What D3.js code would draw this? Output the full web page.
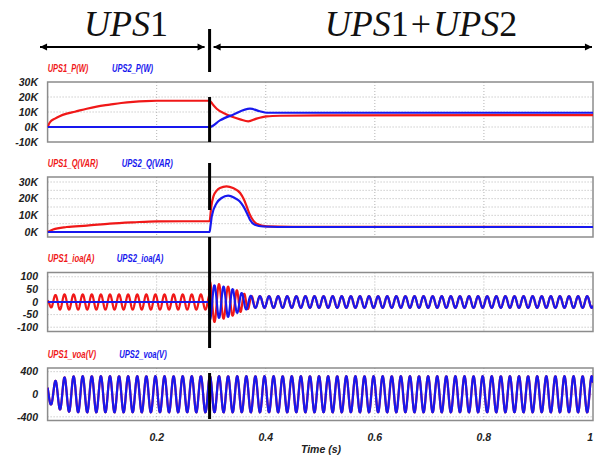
<!DOCTYPE html>
<html>
<head>
<meta charset="utf-8">
<script src="https://cdn.jsdelivr.net/npm/d3@7"></script>
<style>
  body { margin: 0; background: #fff; }
  svg { display: block; }
</style>
</head>
<body>
<div id="chart"></div>
<script>
// ---- data ----
const xTicks = [0.2, 0.4, 0.6, 0.8, 1];
const switchTime = 0.297;          // UPS2 connected
const lineFreq = 60;               // Hz, counted from the waveforms

// active power (W)
const p1Time = [0, 0.004, 0.0136, 0.022, 0.035, 0.05, 0.0717, 0.09, 0.114, 0.135, 0.157, 0.18, 0.2, 0.297, 0.303, 0.31, 0.328, 0.353, 0.368, 0.383, 0.402, 0.426, 0.5, 1];
const p1 = [0, 3000, 5600, 7200, 8900, 10200, 12200, 13600, 14900, 16000, 16800, 17300, 17500, 17500, 15000, 12200, 8300, 5100, 3800, 5600, 7100, 7500, 7800, 7900];
const p2Time = [0, 0.297, 0.316, 0.34, 0.371, 0.389, 0.402, 0.45, 1];
const p2 = [0, 0, 4400, 8200, 12200, 10500, 9500, 9500, 9500];

// reactive power (VAR)
const q1Time = [0, 0.01, 0.035, 0.072, 0.114, 0.157, 0.2, 0.297, 0.3, 0.304, 0.31, 0.316, 0.328, 0.34, 0.353, 0.36, 0.365, 0.37, 0.374, 0.383, 0.402, 0.45, 1];
const q1 = [0, 1500, 3000, 3800, 5000, 5800, 6400, 6500, 15000, 21400, 24800, 26400, 27400, 26400, 23400, 19500, 15400, 11000, 8400, 5000, 3400, 3100, 3000];
const q2Time = [0, 0.297, 0.299, 0.301, 0.31, 0.319, 0.331, 0.343, 0.352, 0.359, 0.366, 0.371, 0.38, 0.395, 0.45, 1];
const q2 = [0, 0, 4500, 9400, 17400, 20400, 21800, 20400, 18500, 15400, 11000, 7400, 4400, 3300, 3000, 3000];

// output current peak envelopes (A) and phase offsets (deg)
const ioa1EnvTime = [0, 0.008, 0.02, 0.296, 0.2975, 0.307, 0.315, 0.33, 0.345, 0.36, 0.375, 1];
const ioa1Env = [8, 25, 30, 30, 80, 79, 70, 62, 49, 33, 23, 23];
const ioa1PhaseTime = [0, 0.345, 0.38, 1];
const ioa1Phase = [0, 0, 180, 180];
const ioa2EnvTime = [0, 0.296, 0.2975, 0.31, 0.33, 0.345, 0.36, 0.375, 1];
const ioa2Env = [0, 0, 70, 64, 60, 45, 32, 23, 23];
const ioa2PhaseTime = [0, 1];
const ioa2Phase = [180, 180];

// output voltage peak envelope (V)
const voaEnvTime = [0, 0.006, 0.014, 0.022, 0.03, 0.045, 0.06, 1];
const voaEnv = [180, 180, 237, 267, 297, 315, 320, 320];
const startPhase = 2.45; // rad, first trough near t = 0.006 s

const seriesLabels = [
  ["UPS1_P(W)", "UPS2_P(W)"],
  ["UPS1_Q(VAR)", "UPS2_Q(VAR)"],
  ["UPS1_ioa(A)", "UPS2_ioa(A)"],
  ["UPS1_voa(V)", "UPS2_voa(V)"]
];

// ---- layout ----
const width = 594, height = 457;
const red = "#f01818", blue = "#1818ee";
const sans = "'Liberation Sans Narrow', 'Liberation Sans', Arial, sans-serif";

const svg = d3.select("#chart").append("svg")
  .attr("width", width)
  .attr("height", height);

const x = d3.scaleLinear().domain([0, 1]).range([47.6, 593]);

const kfmt = d => d / 1000 + "K";
const panels = [
  { top: 82, bottom: 142, domain: [-10000, 30000], ticks: [30000, 20000, 10000, 0, -10000], grid: [20000, 10000, 0], fmt: kfmt,
    lab: { y: 68.3, bx: 112, w: [40.6, 41] } },
  { top: 177, bottom: 237, domain: [-3000, 33000], ticks: [30000, 20000, 10000, 0], grid: [5000, 10000, 15000, 20000, 25000, 30000], fmt: kfmt,
    lab: { y: 163.3, bx: 121.7, w: [50.3, 51] } },
  { top: 272.5, bottom: 331.5, domain: [-117, 117], ticks: [100, 50, 0, -50, -100], grid: [100, 50, 0, -50, -100], fmt: d => d,
    lab: { y: 258.3, bx: 116.7, w: [46.6, 46.6] } },
  { top: 368, bottom: 420.5, domain: [-465, 465], ticks: [400, 0, -400], grid: [400, 0, -400], fmt: d => d,
    lab: { y: 354, bx: 119.3, w: [48.3, 47.4] } }
];

function wave(envT, envA, phT, phV) {
  const amp = d3.scaleLinear().domain(envT).range(envA).clamp(true);
  const ph = d3.scaleLinear().domain(phT).range(phV).clamp(true);
  return d3.range(0, 1.0001, 0.0004).map(t =>
    [t, amp(t) * Math.sin(2 * Math.PI * lineFreq * t + startPhase + ph(t) * Math.PI / 180)]);
}

const series = [
  [p1Time.map((t, i) => [t, p1[i]]), p2Time.map((t, i) => [t, p2[i]])],
  [q1Time.map((t, i) => [t, q1[i]]), q2Time.map((t, i) => [t, q2[i]])],
  [wave(ioa1EnvTime, ioa1Env, ioa1PhaseTime, ioa1Phase), wave(ioa2EnvTime, ioa2Env, ioa2PhaseTime, ioa2Phase)],
  [wave(voaEnvTime, voaEnv, [0, 1], [0, 0]), wave(voaEnvTime, voaEnv, [0, 1], [0, 0])]
];

const defs = svg.append("defs");

panels.forEach((p, i) => {
  const y = d3.scaleLinear().domain(p.domain).range([p.bottom, p.top]);
  const g = svg.append("g");
  const clipId = "clip" + i;
  defs.append("clipPath").attr("id", clipId)
    .append("rect").attr("x", x(0)).attr("y", p.top).attr("width", x(1) - x(0)).attr("height", p.bottom - p.top);

  // dotted grid
  g.selectAll(".hg").data(p.grid).enter().append("line")
    .attr("x1", x(0)).attr("x2", x(1))
    .attr("y1", d => y(d)).attr("y2", d => y(d))
    .attr("stroke", "#b4b4b4").attr("stroke-width", 1).attr("stroke-dasharray", "1,2");
  g.selectAll(".vg").data(xTicks.slice(0, -1)).enter().append("line")
    .attr("x1", d => x(d)).attr("x2", d => x(d))
    .attr("y1", p.top).attr("y2", p.bottom)
    .attr("stroke", "#b4b4b4").attr("stroke-width", 1).attr("stroke-dasharray", "1,2");

  // frame
  g.append("rect")
    .attr("x", x(0)).attr("y", p.top)
    .attr("width", x(1) - x(0)).attr("height", p.bottom - p.top)
    .attr("fill", "none").attr("stroke", "#8c8c8c").attr("stroke-width", 1.5);

  // y tick labels
  g.selectAll(".yt").data(p.ticks).enter().append("text")
    .attr("x", 38).attr("y", d => y(d))
    .attr("dy", "0.35em")
    .attr("text-anchor", "end")
    .attr("font-family", sans)
    .attr("font-size", 10.5).attr("font-weight", "bold").attr("font-style", "italic")
    .attr("fill", "#222")
    .text(p.fmt);

  // series labels
  [0, 1].forEach(k => {
    g.append("text")
      .attr("x", k === 0 ? 47.7 : p.lab.bx).attr("y", p.lab.y).attr("dy", "0.35em")
      .attr("font-family", sans)
      .attr("font-size", 11).attr("font-weight", "bold").attr("font-style", "italic")
      .attr("textLength", p.lab.w[k]).attr("lengthAdjust", "spacingAndGlyphs")
      .attr("fill", k === 0 ? red : blue)
      .text(seriesLabels[i][k]);
  });

  // traces
  const line = d3.line().x(d => x(d[0])).y(d => y(d[1]))
    .curve(i < 2 ? d3.curveMonotoneX : d3.curveLinear);
  series[i].forEach((s, k) => {
    g.append("path")
      .datum(s)
      .attr("clip-path", `url(#${clipId})`)
      .attr("fill", "none")
      .attr("stroke", k === 0 ? red : blue)
      .attr("stroke-width", 2.2)
      .attr("stroke-linejoin", "round")
      .attr("d", line);
  });
});

// x axis labels (last one sits at the right edge)
svg.selectAll(".xt").data(xTicks).enter().append("text")
  .attr("x", d => d === 1 ? x(d) : x(d)).attr("y", 437).attr("dy", "0.35em")
  .attr("text-anchor", d => d === 1 ? "end" : "middle")
  .attr("font-family", sans)
  .attr("font-size", 10.5).attr("font-weight", "bold").attr("font-style", "italic")
  .attr("fill", "#222")
  .text(d => d3.format("")(d));
svg.append("text")
  .attr("x", 321).attr("y", 449.5).attr("dy", "0.35em")
  .attr("text-anchor", "middle")
  .attr("font-family", sans)
  .attr("font-size", 10.5).attr("font-weight", "bold").attr("font-style", "italic")
  .attr("fill", "#222")
  .text("Time (s)");

// switching marker: thick black segments
const xs = x(switchTime);
const barSegments = [[29, 72], [97, 142], [163, 210], [237, 348], [373, 419]];
svg.selectAll(".bar").data(barSegments).enter().append("line")
  .attr("x1", xs).attr("x2", xs)
  .attr("y1", d => d[0]).attr("y2", d => d[1])
  .attr("stroke", "#000").attr("stroke-width", 3);

// header arrows and labels
defs.append("marker").attr("id", "ah")
  .attr("viewBox", "0 0 10 10").attr("refX", 10).attr("refY", 5)
  .attr("markerWidth", 4.5).attr("markerHeight", 3.2).attr("orient", "auto-start-reverse")
  .attr("markerUnits", "strokeWidth")
  .append("path").attr("d", "M0,0L10,5L0,10Z").attr("fill", "#000");

const arrowY = 47;
[[40, xs - 5], [xs + 4, 592]].forEach(([a, b]) => {
  svg.append("line")
    .attr("x1", a).attr("x2", b).attr("y1", arrowY).attr("y2", arrowY)
    .attr("stroke", "#000").attr("stroke-width", 2.2)
    .attr("marker-start", "url(#ah)").attr("marker-end", "url(#ah)");
});

function header(cx, parts) {
  const t = svg.append("text")
    .attr("x", cx).attr("y", 36)
    .attr("text-anchor", "middle")
    .attr("font-family", "'Liberation Serif', 'Times New Roman', serif")
    .attr("font-size", 36).attr("fill", "#111");
  parts.forEach(([s, italic, dx]) => {
    t.append("tspan").attr("font-style", italic ? "italic" : "normal").attr("dx", dx || 0).text(s);
  });
}
header(126, [["UPS", true], ["1", false]]);
header(421, [["UPS", true], ["1", false], ["+", false, 2], ["UPS", true, 2], ["2", false]]);
</script>
</body>
</html>
